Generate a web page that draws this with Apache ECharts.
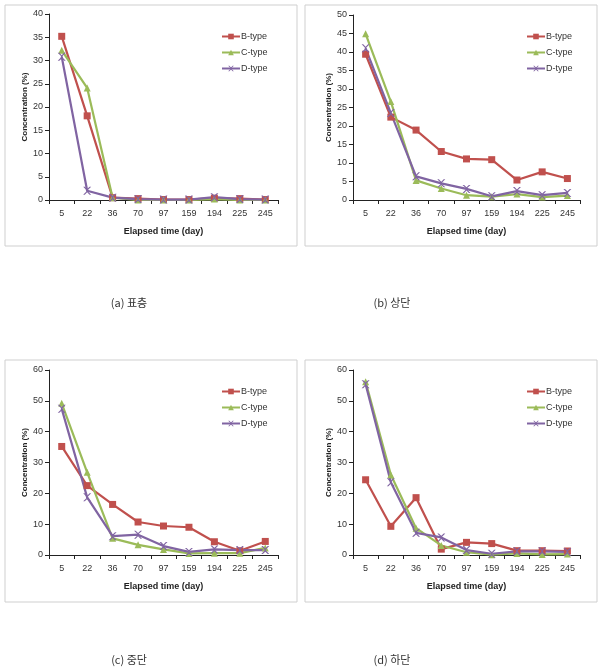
<!DOCTYPE html>
<html><head><meta charset="utf-8">
<script src="https://cdn.jsdelivr.net/npm/echarts@6/dist/echarts.min.js"></script>
<style>html,body{margin:0;padding:0;background:#fff}#c{width:605px;height:670px}</style>
</head><body><div id="c"></div>
<script>
const categories = ['5','22','36','70','97','159','194','225','245'];
const seriesNames = ['B-type','C-type','D-type'];
// (a) 표층
const aB = [35.2,18.1,0.5,0.3,0.1,0.1,0.4,0.3,0.1];
const aC = [32.2,24.1,0.5,0,0,0,0.2,0,0];
const aD = [30.8,2.0,0.5,0.2,0.1,0.1,0.6,0.2,0.1];
// (b) 상단
const bB = [39.4,22.4,18.9,13.1,11.1,10.9,5.4,7.6,5.8];
const bC = [44.9,26.6,5.3,3.1,1.3,0.9,1.6,0.8,1.2];
const bD = [41.0,23.5,6.4,4.5,3.0,1.0,2.4,1.3,1.9];
// (c) 중단
const cB = [35.2,22.5,16.4,10.7,9.4,9.0,4.3,1.4,4.4];
const cC = [49.2,26.8,5.4,3.3,1.8,0.5,0.6,0.6,2.3];
const cD = [47.4,18.7,6.1,6.6,2.9,1.0,1.8,1.6,1.6];
// (d) 하단
const dB = [24.4,9.3,18.6,1.9,4.1,3.7,1.4,1.4,1.3];
const dC = [56.2,26.0,8.7,3.1,0.9,0.1,0.5,0.2,0.3];
const dD = [55.4,23.6,7.2,5.7,1.6,0.4,1.2,1.2,1.0];
const yMax = [40,50,60,60];
const yStep = [5,5,10,10];
const captions = ['(a) 표층','(b) 상단','(c) 중단','(d) 하단'];

const panelData = [[aB,aC,aD],[bB,bC,bD],[cB,cC,cD],[dB,dC,dD]];
const colors = ['#C0504D','#9BBB59','#8064A2'];
const xPath = 'path://M0,0 L2,0 L5,3 L8,0 L10,0 L6,4 L6,6 L10,10 L8,10 L5,7 L2,10 L0,10 L4,6 L4,4 Z';
const symbols = ['rect','triangle',xPath];
const symSizes = [7,7,8];

const grids = [
  {left:49, top:14, width:229, height:186},
  {left:353, top:15, width:227, height:185},
  {left:49, top:370, width:229, height:185},
  {left:353, top:370, width:227, height:185}
];
const boxes = [[5,5,292,241],[305,5,292,241],[5,360,292,242],[305,360,292,242]];
const legendPos = [[216,27],[521,27],[216,382],[521,382]];
const capPos = [[129,303],[392,303],[129,660],[392,660]];
const font = 'Liberation Sans, Arial, sans-serif';

const option = {
  animation:false,
  backgroundColor:'#fff',
  grid: grids.map(g=>Object.assign({containLabel:false}, g)),
  xAxis: grids.map((g,i)=>({
    type:'category', gridIndex:i, data:categories, boundaryGap:true,
    name:'Elapsed time (day)', nameLocation:'middle', nameGap:27,
    nameTextStyle:{fontFamily:font,fontSize:9,fontWeight:'bold',color:'#222'},
    axisLine:{lineStyle:{color:'#222',width:1}},
    axisTick:{show:true,alignWithLabel:false,length:4,lineStyle:{color:'#222'}},
    axisLabel:{fontFamily:font,fontSize:9,color:'#333',margin:9,interval:0},
    splitLine:{show:false}
  })),
  yAxis: grids.map((g,i)=>({
    type:'value', gridIndex:i, min:0, max:yMax[i], interval:yStep[i],
    name:'Concentration (%)', nameLocation:'middle', nameGap:19,
    nameTextStyle:{fontFamily:font,fontSize:8,fontWeight:'bold',color:'#222'},
    axisLine:{show:true,lineStyle:{color:'#222',width:1}},
    axisTick:{show:true,length:4,lineStyle:{color:'#222'}},
    axisLabel:{fontFamily:font,fontSize:9,color:'#333',margin:6},
    splitLine:{show:false}
  })),
  legend: legendPos.map((p,i)=>({
    orient:'vertical', left:p[0], top:p[1], itemWidth:18, itemHeight:7, itemGap:7,
    data:seriesNames, selectedMode:false,
    textStyle:{fontFamily:font,fontSize:9,color:'#333',padding:[0,0,0,-4]}
  })),
  series: [],
  graphic: []
};
panelData.forEach((arrs,i)=>{
  arrs.forEach((vals,k)=>{
    option.series.push({
      type:'line', name:seriesNames[k], xAxisIndex:i, yAxisIndex:i, data:vals,
      symbol:symbols[k], symbolSize:symSizes[k], showAllSymbol:true,
      itemStyle:{color:colors[k]}, lineStyle:{color:colors[k],width:2.2}
    });
  });
});
boxes.forEach(b=>{
  option.graphic.push({type:'rect',shape:{x:b[0],y:b[1],width:b[2],height:b[3]},
    style:{fill:null,stroke:'#cfcfcf',lineWidth:1},silent:true});
});
captions.forEach((t,i)=>{
  option.graphic.push({type:'text',x:capPos[i][0],y:capPos[i][1],
    style:{text:t,fontFamily:'Noto Sans CJK KR, sans-serif',fontSize:11,fill:'#333',align:'center',verticalAlign:'middle'}});
});
const chart = echarts.init(document.getElementById('c'),null,{renderer:'canvas'});
chart.setOption(option);
</script></body></html>
